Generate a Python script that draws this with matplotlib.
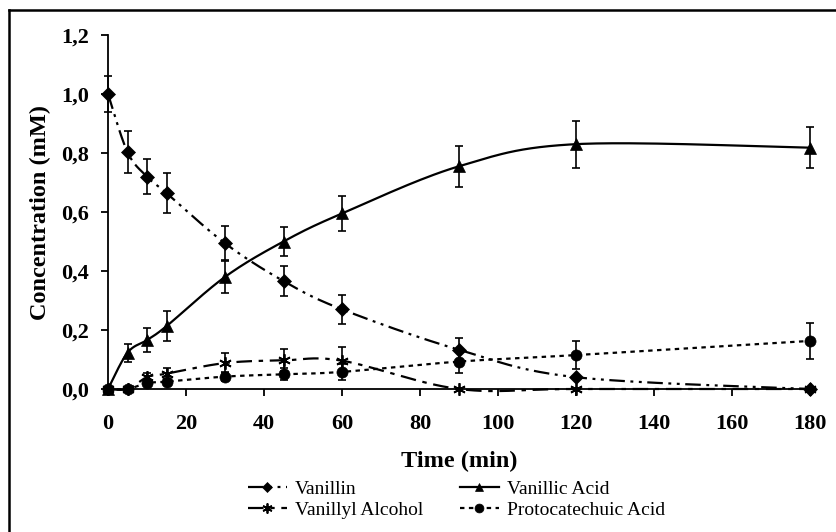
import numpy as np
import matplotlib
matplotlib.use("Agg")
import matplotlib.pyplot as plt
from matplotlib.lines import Line2D

plt.rcParams['font.family'] = ['Liberation Serif', 'DejaVu Serif']

time = [0, 5, 10, 15, 30, 45, 60, 90, 120, 180]
vanillin = [1.0, 0.803, 0.72, 0.664, 0.494, 0.366, 0.27, 0.133, 0.04, 0.0]
vanillin_err = [0.06, 0.07, 0.06, 0.068, 0.057, 0.05, 0.05, 0.04, 0.0, 0.0]
vanillic = [0.0, 0.123, 0.166, 0.213, 0.38, 0.50, 0.595, 0.755, 0.83, 0.818]
vanillic_err = [0.0, 0.03, 0.04, 0.05, 0.055, 0.05, 0.06, 0.07, 0.08, 0.07]
alcohol = [0.0, 0.0, 0.04, 0.052, 0.088, 0.097, 0.096, 0.0, 0.0, 0.0]
alcohol_err = [0.0, 0.0, 0.015, 0.02, 0.035, 0.037, 0.047, 0.0, 0.0, 0.0]
proto = [0.0, 0.0, 0.02, 0.025, 0.042, 0.05, 0.058, 0.093, 0.115, 0.163]
proto_err = [0.0, 0.0, 0.008, 0.01, 0.015, 0.02, 0.028, 0.038, 0.048, 0.06]

xticks = [0, 20, 40, 60, 80, 100, 120, 140, 160, 180]
yticks = [0.0, 0.2, 0.4, 0.6, 0.8, 1.0, 1.2]
ytick_labels = ['0,0', '0,2', '0,4', '0,6', '0,8', '1,0', '1,2']


def smooth(x, y, n=30):
    x = np.asarray(x, float)
    y = np.asarray(y, float)
    P = np.column_stack([x, y])
    out = [P[0]]
    m = len(P)
    for i in range(m - 1):
        p0 = P[i - 1] if i > 0 else P[i]
        p1 = P[i]
        p2 = P[i + 1]
        p3 = P[i + 2] if i + 2 < m else P[i + 1]
        c1 = p1 + (p2 - p0) / 6.0
        c2 = p2 - (p3 - p1) / 6.0
        t = np.linspace(0, 1, n)[1:, None]
        seg = ((1 - t) ** 3) * p1 + 3 * ((1 - t) ** 2) * t * c1 + 3 * (1 - t) * t ** 2 * c2 + t ** 3 * p2
        out.extend(seg)
    out = np.array(out)
    return out[:, 0], out[:, 1]


fig = plt.figure(figsize=(8.36, 5.32), dpi=100)
ax = fig.add_axes([108 / 836, 1 - 389 / 532, (810 - 108) / 836, (389 - 35) / 532])

lw = 1.6
series = [
    (vanillin, vanillin_err, 'D', 7, (0, (7, 2.5, 1.3, 2.5, 1.3, 2.5)), 'Vanillin'),
    (vanillic, vanillic_err, '^', 8, '-', 'Vanillic Acid'),
    (alcohol, alcohol_err, (6, 2, 0), 9, (0, (7, 3, 2, 3)), 'Vanillyl Alcohol'),
    (proto, proto_err, 'o', 8, (0, (2, 2)), 'Protocatechuic Acid'),
]

handles = {}
for vals, errs, mk, ms, ls, lab in series:
    sx, sy = smooth(time, vals)
    ax.plot(sx, sy, color='black', lw=lw, linestyle=ls, zorder=2, clip_on=False)
    ax.errorbar(time, vals, yerr=errs, fmt='none', ecolor='black', elinewidth=1.2,
                capsize=3.2, capthick=1.2, zorder=3, clip_on=False)
    mew = 1.3 if mk == (6, 2, 0) else 0.5
    ax.plot(time, vals, linestyle='none', marker=mk, ms=ms, color='black',
            mec='black', mew=mew, zorder=4, clip_on=False)
    handles[lab] = Line2D([], [], color='black', lw=lw, linestyle=ls, marker=mk,
                          ms=ms * 0.8, mew=mew, label=lab)

ax.set_xlim(0, 180)
ax.set_ylim(0, 1.2)
ax.set_xticks(xticks)
ax.set_xticklabels([str(v) for v in xticks])
ax.set_yticks(yticks)
ax.set_yticklabels(ytick_labels)
for s in ['top', 'right']:
    ax.spines[s].set_visible(False)
for s in ['left', 'bottom']:
    ax.spines[s].set_linewidth(1.3)
ax.tick_params(axis='both', direction='out', length=5, width=1.3, labelsize=16)
ax.tick_params(axis='x', pad=13)
ax.tick_params(axis='y', pad=8.5)
for lbl in ax.get_xticklabels() + ax.get_yticklabels():
    lbl.set_fontweight('bold')
ax.set_xlabel('Time (min)', fontsize=17.5, fontweight='bold')
ax.set_ylabel('Concentration (mM)', fontsize=17.5, fontweight='bold')
ax.xaxis.set_label_coords(0.5, (389 - 451) / 354)
ax.yaxis.set_label_coords((51 - 108) / 702, 0.5)

order = ['Vanillin', 'Vanillyl Alcohol', 'Vanillic Acid', 'Protocatechuic Acid']
leg = fig.legend(handles=[handles[k] for k in order], loc='center left',
                 bbox_to_anchor=(248 / 836, 1 - 499.5 / 532),
                 ncol=2, frameon=False, fontsize=14, handlelength=2.0, handletextpad=0.4,
                 columnspacing=1.9, labelspacing=0.2, borderpad=0, borderaxespad=0)

# outer chart border (left and top visible)
fig.add_artist(Line2D([9 / 836, 9 / 836], [0, 1 - 10 / 532], transform=fig.transFigure,
                      color='black', lw=1.8))
fig.add_artist(Line2D([9 / 836, 1.0], [1 - 10 / 532, 1 - 10 / 532], transform=fig.transFigure,
                      color='black', lw=1.8))

fig.savefig('out.png', dpi=100)
